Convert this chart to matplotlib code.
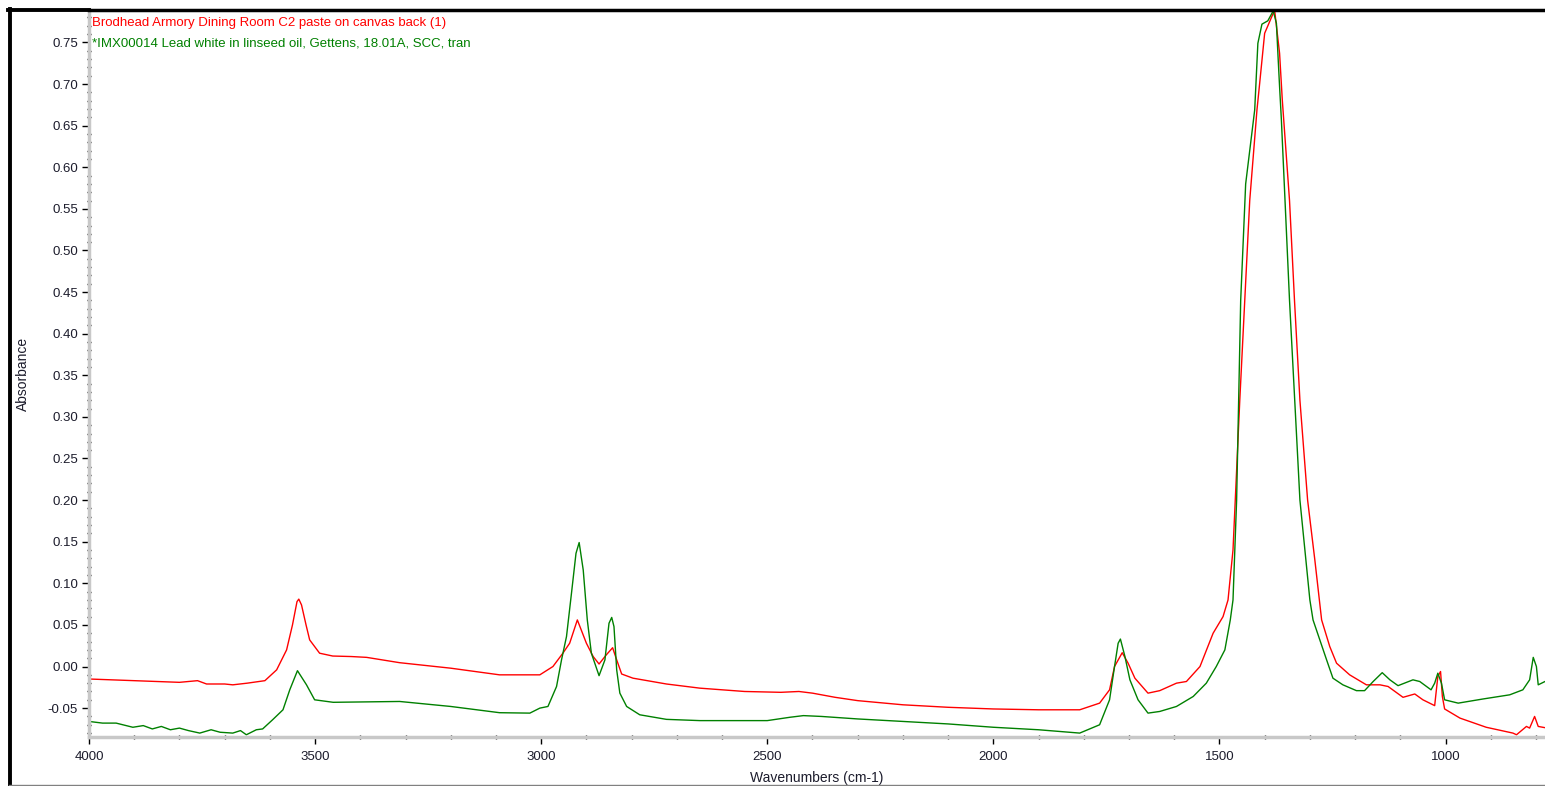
import numpy as np
import matplotlib.pyplot as plt
from matplotlib.lines import Line2D
from matplotlib.ticker import MultipleLocator, FormatStrFormatter

# ---------------------------------------------------------
# Spectra (wavenumber in cm-1, absorbance)
# ---------------------------------------------------------
SAMPLE_NAME = "Brodhead Armory Dining Room C2 paste on canvas back (1)"
REF_NAME = "*IMX00014 Lead white in linseed oil, Gettens, 18.01A, SCC, tran"

sample_wn = [4000, 3900, 3800, 3760, 3740, 3700, 3682, 3650, 3611, 3585, 3563, 3550,
             3540, 3536, 3530, 3520, 3512, 3490, 3461, 3420, 3386, 3313, 3200, 3092,
             3003, 2974, 2952, 2937, 2920, 2900, 2885, 2872, 2856, 2842, 2833, 2822,
             2797, 2723, 2649, 2550, 2470, 2430, 2400, 2350, 2300, 2200, 2100, 2000,
             1900, 1809, 1765, 1743, 1732, 1715, 1702, 1687, 1658, 1632, 1595, 1573,
             1543, 1514, 1492, 1481, 1470, 1455, 1444, 1433, 1417, 1411, 1400, 1378,
             1367, 1361, 1345, 1334, 1322, 1305, 1289, 1274, 1256, 1241, 1212, 1175,
             1145, 1127, 1094, 1068, 1050, 1024, 1017, 1011, 1007, 1002, 968, 910,
             851, 843, 821, 814, 803, 795, 780]
sample_abs = [-0.015, -0.017, -0.019, -0.017, -0.021, -0.021, -0.022, -0.020, -0.017,
              -0.004, 0.020, 0.050, 0.078, 0.081, 0.074, 0.050, 0.032, 0.016, 0.0126,
              0.012, 0.011, 0.0046, -0.002, -0.010, -0.010, 0.000, 0.016, 0.028, 0.056,
              0.028, 0.012, 0.003, 0.014, 0.0226, 0.008, -0.009, -0.014, -0.021, -0.026,
              -0.030, -0.031, -0.030, -0.032, -0.037, -0.041, -0.046, -0.049, -0.051,
              -0.052, -0.052, -0.044, -0.028, 0.000, 0.0166, 0.004, -0.014, -0.032,
              -0.029, -0.020, -0.018, 0.000, 0.040, 0.060, 0.080, 0.140, 0.320, 0.440,
              0.560, 0.669, 0.701, 0.761, 0.789, 0.737, 0.681, 0.560, 0.440, 0.320,
              0.200, 0.128, 0.056, 0.024, 0.004, -0.010, -0.022, -0.022, -0.024, -0.037,
              -0.033, -0.040, -0.047, -0.012, -0.006, -0.036, -0.051, -0.062, -0.073,
              -0.080, -0.082, -0.072, -0.074, -0.060, -0.072, -0.0735]

ref_wn = [4000, 3970, 3940, 3903, 3880, 3860, 3840, 3820, 3800, 3780, 3755, 3730,
          3710, 3682, 3665, 3652, 3630, 3616, 3594, 3571, 3556, 3539, 3519, 3501,
          3460, 3313, 3200, 3092, 3025, 3003, 2985, 2966, 2955, 2944, 2933, 2923,
          2916, 2907, 2898, 2889, 2872, 2859, 2850, 2844, 2839, 2833, 2826, 2811,
          2782, 2723, 2649, 2500, 2450, 2420, 2380, 2300, 2200, 2100, 2000, 1900,
          1809, 1765, 1743, 1732, 1724, 1719, 1709, 1698, 1680, 1658, 1632, 1595,
          1558, 1529, 1507, 1488, 1476, 1470, 1462, 1453, 1442, 1422, 1415, 1406,
          1393, 1381, 1374, 1370, 1367, 1363, 1345, 1322, 1300, 1293, 1278, 1263,
          1249, 1227, 1197, 1179, 1160, 1140, 1123, 1105, 1072, 1057, 1032, 1024,
          1017, 1009, 1002, 972, 917, 858, 829, 814, 806, 799, 795, 780]
ref_abs = [-0.066, -0.068, -0.068, -0.073, -0.071, -0.075, -0.072, -0.076, -0.074,
           -0.077, -0.080, -0.076, -0.079, -0.080, -0.077, -0.082, -0.076, -0.075,
           -0.064, -0.052, -0.028, -0.005, -0.022, -0.040, -0.043, -0.042, -0.048,
           -0.0555, -0.056, -0.050, -0.048, -0.024, 0.008, 0.036, 0.088, 0.136, 0.149,
           0.116, 0.056, 0.016, -0.011, 0.008, 0.052, 0.059, 0.048, -0.004, -0.032,
           -0.048, -0.058, -0.0635, -0.065, -0.065, -0.061, -0.059, -0.060, -0.063,
           -0.066, -0.069, -0.073, -0.076, -0.080, -0.070, -0.040, 0.000, 0.028, 0.033,
           0.012, -0.016, -0.040, -0.056, -0.054, -0.048, -0.036, -0.020, 0.000, 0.020,
           0.056, 0.080, 0.200, 0.440, 0.580, 0.669, 0.749, 0.772, 0.776, 0.788, 0.773,
           0.729, 0.697, 0.657, 0.440, 0.200, 0.080, 0.056, 0.032, 0.008, -0.014,
           -0.022, -0.029, -0.029, -0.018, -0.0074, -0.016, -0.023, -0.016, -0.018,
           -0.028, -0.020, -0.008, -0.020, -0.040, -0.044, -0.039, -0.034, -0.028,
           -0.016, 0.011, 0.000, -0.022, -0.018]

RED = '#ff0000'
GREEN = '#008000'
TEXT = '#1c1c2c'
W, H = 1545, 786

plt.rcParams['font.family'] = ['Liberation Sans', 'DejaVu Sans']

fig = plt.figure(figsize=(W / 100, H / 100), dpi=100)
ax = fig.add_axes([89 / W, 1 - 737 / H, 1 - 89 / W, (737 - 10) / H])

ax.plot(sample_wn, sample_abs, color=RED, lw=1.0)
ax.plot(ref_wn, ref_abs, color=GREEN, lw=1.0)

ax.set_xlim(4000, 780)
ax.set_ylim(-0.0847, 0.789)

ax.xaxis.set_major_locator(MultipleLocator(500))
ax.xaxis.set_minor_locator(MultipleLocator(100))
ax.yaxis.set_major_locator(MultipleLocator(0.05))
ax.yaxis.set_minor_locator(MultipleLocator(0.01))
ax.yaxis.set_major_formatter(FormatStrFormatter('%.2f'))

ax.tick_params(which='major', length=5, width=1, color='black', labelsize=9.5,
               labelcolor=TEXT, direction='out')
ax.tick_params(which='minor', length=2.5, width=1, color='black', direction='inout')
ax.tick_params(axis='x', which='major', pad=5)
ax.tick_params(axis='y', which='major', pad=3)

for side in ['left', 'bottom']:
    ax.spines[side].set_color('#c8c8c8')
    ax.spines[side].set_linewidth(2.5)
ax.spines['right'].set_visible(False)
ax.spines['top'].set_color('black')
ax.spines['top'].set_linewidth(2.5)

ax.set_xlabel('Wavenumbers (cm-1)', fontsize=10, color=TEXT, labelpad=6)
ax.set_ylabel('Absorbance', fontsize=10, color=TEXT, labelpad=13)

# spectrum titles inside the plot
ax.text(92 / W, 1 - 23 / H, SAMPLE_NAME, transform=fig.transFigure, color=RED,
        fontsize=9.5, va='center', ha='left')
ax.text(92 / W, 1 - 44 / H, REF_NAME, transform=fig.transFigure, color=GREEN,
        fontsize=9.5, va='center', ha='left')

# window frame
fig.add_artist(Line2D([9.5 / W, 9.5 / W], [0, 1 - 9 / H], color='black', lw=2.8,
                      transform=fig.transFigure))
fig.add_artist(Line2D([9 / W, 1], [1 - 785 / H, 1 - 785 / H], color='#808080', lw=1,
                      transform=fig.transFigure))
fig.add_artist(Line2D([8 / W, 89 / W], [1 - 9.5 / H, 1 - 9.5 / H], color='black', lw=2.8,
                      transform=fig.transFigure))

fig.savefig('out.png', dpi=100)
